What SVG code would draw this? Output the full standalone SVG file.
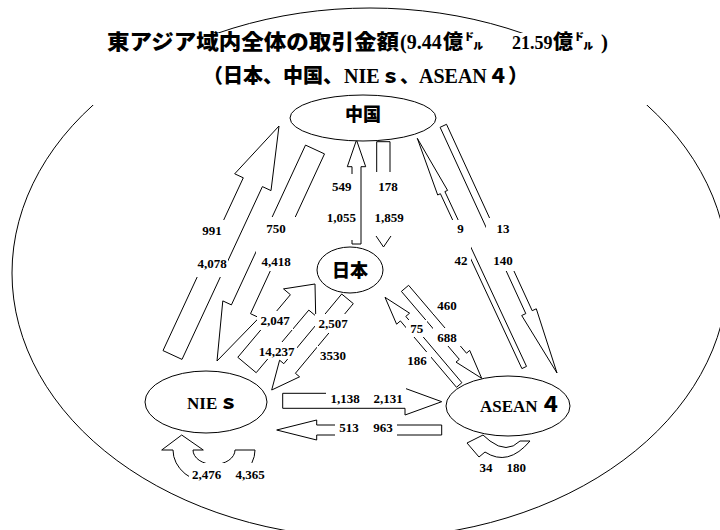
<svg xmlns="http://www.w3.org/2000/svg" width="720" height="530" viewBox="0 0 720 530">
<style>
.ln{fill:#fff;stroke:#000;stroke-width:1;stroke-linejoin:miter}
.bg{fill:#fff;stroke:none}
.num{font-family:"Liberation Serif","Times New Roman",serif;font-weight:bold;font-size:13px;text-anchor:middle;fill:#000}
.jp{font-family:"Noto Sans CJK JP","Noto Sans CJK SC",sans-serif;font-weight:900;fill:#000}
.ser{font-family:"Liberation Serif","Times New Roman",serif;font-weight:bold;fill:#000}
.node{fill:#fff;stroke:#000;stroke-width:1}
</style>
<rect width="720" height="530" fill="#fff"/>
<ellipse cx="370" cy="273" rx="358" ry="265" fill="none" stroke="#000" stroke-width="1"/>
<rect x="20" y="33" width="680" height="72" fill="#fff"/>
<g id="title">
<text class="jp" y="49" font-size="21"><tspan x="107" textLength="292" lengthAdjust="spacingAndGlyphs">東アジア域内全体の取引金額</tspan><tspan class="ser" x="400" font-size="20">(9.44</tspan><tspan x="443" font-size="20">億</tspan><tspan x="464" font-size="20">㌦</tspan><tspan class="ser" x="512" font-size="18">21.59</tspan><tspan x="553" font-size="20">億</tspan><tspan x="574" font-size="20">㌦</tspan><tspan class="ser" x="601">)</tspan></text>
<text class="jp" y="83" font-size="20"><tspan x="203">（日本、中国、</tspan><tspan class="ser" x="344">NIE</tspan><tspan x="381" font-size="19">ｓ、</tspan><tspan class="ser" x="419">ASEAN</tspan><tspan x="488">４）</tspan></text>
</g>
<g id="connectors">
<polygon class="ln" points="182.0,359.4 262.4,186.6 271.0,190.6 279,126 234.7,173.8 243.3,177.8 163.0,350.6"/>
<polygon class="ln" points="305.5,145.1 231.4,304.9 222.8,300.9 217,361 259.1,317.7 250.5,313.7 324.5,153.9"/>
<polygon class="ln" points="352,244 352,166.7 347.3,166.7 356.5,140 365.7,166.7 361,166.7 361,244"/>
<polygon class="ln" points="376.7,141.7 376.7,233 374,233 383.5,247 393,233 390,233 390,141.7"/>
<polygon class="ln" points="440.1,127.3 525.8,313.6 521.7,315.5 557,373 536.3,308.8 532.2,310.7 446.5,124.3"/>
<polygon class="ln" points="526.5,366.4 444.9,191.6 447.6,190.4 417.3,138.3 437.7,195.0 440.4,193.7 521.9,368.6"/>
<polygon class="ln" points="256.2,372.7 308.8,310.1 315.7,315.9 315,284 283.5,288.9 290.4,294.7 237.8,357.3"/>
<polygon class="ln" points="341.7,294.0 283.8,363.7 279.6,360.2 271.7,390 299.6,376.8 295.4,373.3 353.3,303.6"/>
<polygon class="ln" points="461.9,382.7 405.8,316.4 409.6,313.2 385,297.3 396.6,324.2 400.4,320.9 456.5,387.3"/>
<polygon class="ln" points="401.4,291.4 459.3,359.3 456.0,362.1 481.7,378.3 469.7,350.4 466.5,353.2 408.6,285.3"/>
<polygon class="ln" points="282.7,393.3 405,393.3 405,388.3 441.7,401.7 405,415 405,408.3 282.7,408.3"/>
<polygon class="ln" points="441.7,425 316.7,425 316.7,420 276.7,430 316.7,440 316.7,435 441.7,435"/>
<path class="ln" d="M173,450 A41,33.5 0 0 0 255,450 L235,450 A21,14.5 0 0 1 193,450 L203.3,450 L181.7,435 L161.7,450 Z"/>
<path class="ln" d="M530,441 Q508,467 485,452 L479,457 L467,443 L483,435 L490,441 Q507,454 520,441 Z"/>
<rect class="bg" x="196" y="220" width="32" height="57"/>
<rect class="bg" x="256" y="217" width="41" height="54"/>
<rect class="bg" x="324" y="174" width="34" height="66"/>
<rect class="bg" x="371" y="172" width="35" height="64"/>
<rect class="bg" x="451" y="220" width="20" height="48"/>
<rect class="bg" x="486" y="218" width="30" height="53"/>
<rect class="bg" x="257" y="311" width="36" height="19"/>
<rect class="bg" x="255" y="342" width="42" height="17"/>
<rect class="bg" x="315" y="314" width="36" height="19"/>
<rect class="bg" x="317" y="346" width="32" height="18"/>
<rect class="bg" x="433" y="297" width="28" height="17"/>
<rect class="bg" x="406" y="320" width="21" height="17"/>
<rect class="bg" x="433" y="328" width="28" height="18"/>
<rect class="bg" x="403" y="352" width="28" height="17"/>
<rect class="bg" x="326" y="387" width="80" height="20"/>
<rect class="bg" x="335" y="419" width="62" height="20"/>
<rect class="bg" x="189" y="463" width="79" height="21"/>
<rect class="bg" x="477" y="460" width="52" height="16"/>
<text class="num" x="212" y="235">991</text>
<text class="num" x="212" y="268">4,078</text>
<text class="num" x="276" y="233">750</text>
<text class="num" x="276" y="266">4,418</text>
<text class="num" x="341.7" y="190.5">549</text>
<text class="num" x="388" y="190.5">178</text>
<text class="num" x="341.3" y="221.5">1,055</text>
<text class="num" x="389" y="221.5">1,859</text>
<text class="num" x="460.5" y="233">9</text>
<text class="num" x="503" y="233">13</text>
<text class="num" x="461" y="265">42</text>
<text class="num" x="503" y="265">140</text>
<text class="num" x="275" y="325">2,047</text>
<text class="num" x="333" y="328">2,507</text>
<text class="num" x="276.7" y="356">14,237</text>
<text class="num" x="333" y="360">3530</text>
<text class="num" x="447" y="310">460</text>
<text class="num" x="416.7" y="333">75</text>
<text class="num" x="447" y="341.5">688</text>
<text class="num" x="417" y="365">186</text>
<text class="num" x="345" y="403">1,138</text>
<text class="num" x="388" y="403">2,131</text>
<text class="num" x="349" y="431.5">513</text>
<text class="num" x="383" y="431.5">963</text>
<text class="num" x="206.7" y="479">2,476</text>
<text class="num" x="250" y="479">4,365</text>
<text class="num" x="486" y="472">34</text>
<text class="num" x="516.3" y="472">180</text>
</g>
<g id="node-china">
<ellipse class="node" cx="363" cy="118" rx="73" ry="23"/>
<text class="jp" x="363" y="121" font-size="18" text-anchor="middle">中国</text>
</g>
<g id="node-japan">
<ellipse class="node" cx="350" cy="270" rx="33" ry="23"/>
<text class="jp" x="350" y="277" font-size="18" text-anchor="middle">日本</text>
</g>
<g id="node-nies">
<ellipse class="node" cx="206" cy="402" rx="61" ry="31"/>
<text class="ser" y="409" font-size="17"><tspan x="187">NIE</tspan><tspan class="jp" x="219" font-size="19">ｓ</tspan></text>
</g>
<g id="node-asean">
<ellipse class="node" cx="508" cy="406" rx="62" ry="30"/>
<text class="ser" y="412" font-size="17"><tspan x="480">ASEAN</tspan><tspan class="jp" x="540" font-size="21">４</tspan></text>
</g>
</svg>
